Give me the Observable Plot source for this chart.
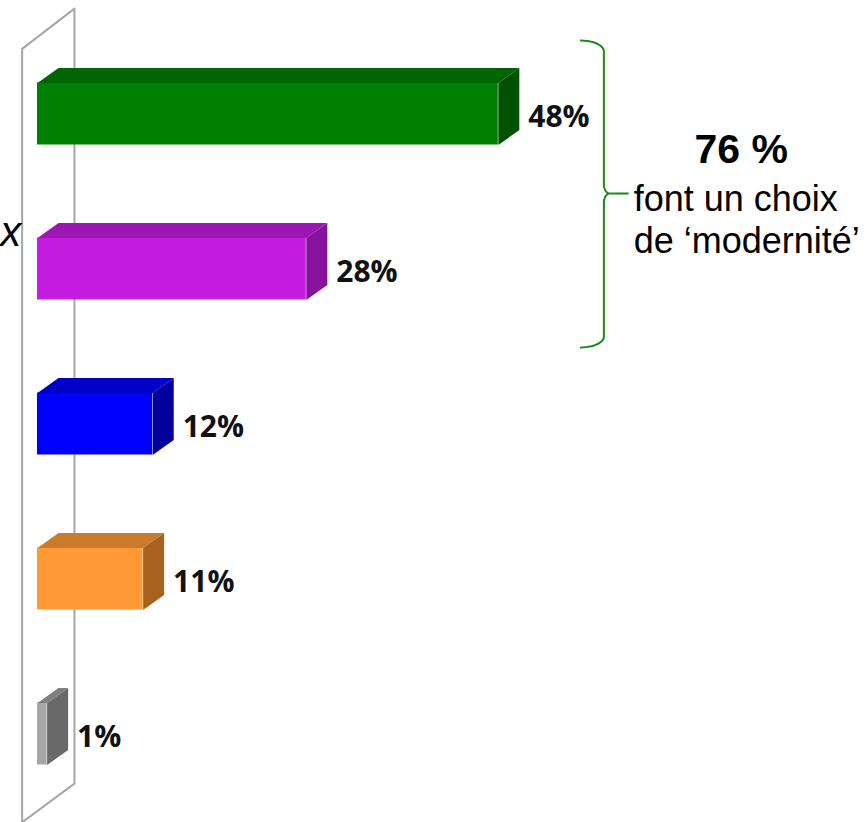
<!DOCTYPE html>
<html>
<head>
<meta charset="utf-8">
<script src="https://cdn.jsdelivr.net/npm/d3@7"></script>
<script src="https://cdn.jsdelivr.net/npm/@observablehq/plot@0.6"></script>
<style>
  html, body { margin: 0; padding: 0; background: #fff; }
  #chart { width: 867px; height: 822px; overflow: hidden; }
</style>
</head>
<body>
<div id="chart"></div>
<script>
// ---- data ----
const categories = ["A", "B", "C", "D", "E"];
const values = [48, 28, 12, 11, 1];
const valueLabels = ["48%", "28%", "12%", "11%", "1%"];
const categoryTailLabels = ["", "x", "", "", ""]; // cropped label visible at left
const frontColors = ["#008000", "#c61ce2", "#0000ff", "#ff9933", "#a6a6a6"];
const topColors   = ["#006400", "#9c16b2", "#0000c8", "#c97b2a", "#7f7f7f"];
const sideColors  = ["#005200", "#88129b", "#00009e", "#a8621f", "#696969"];
const groupTotal = "76 %";
const groupNote = ["font un choix", "de ‘modernité’"];

// ---- geometry helpers (data units) ----
const half = 0.2;      // half bar thickness in category units
const depthX = 2.19;   // 3D depth in % units
const depthY = 0.097;  // 3D depth in category units

const bars = categories.map((c, i) => ({
  i, c, v: values[i], label: valueLabels[i], tail: categoryTailLabels[i],
  front: frontColors[i], top: topColors[i], side: sideColors[i]
}));

const faces = [];
for (const b of bars) {
  const y0 = b.i - half, y1 = b.i + half;
  const t = [[0, y0], [b.v, y0], [b.v + depthX, y0 - depthY], [depthX, y0 - depthY]];
  const s = [[b.v, y0], [b.v + depthX, y0 - depthY], [b.v + depthX, y1 - depthY], [b.v, y1]];
  t.forEach(([x, y]) => faces.push({id: "t" + b.i, x, y, fill: b.top}));
  s.forEach(([x, y]) => faces.push({id: "s" + b.i, x, y, fill: b.side}));
}

// wall frame (back wall of the 3D chart)
const wallX = [-1.6, -1.6, 3.85, 3.85, -1.6];
const wallY = [4.57, -0.42, -0.68, 4.32, 4.57];
const wall = wallX.map((x, k) => ({x, y: wallY[k]}));

// curly brace spanning the first two categories
const braceTop = -0.474, braceBottom = 1.506, braceMid = 0.513;
const braceX0 = 56.6, braceX1 = 59.0, braceTip = 61.5;
const brace = [];
function arc(cx, cy, rx, ry, a0, a1) {
  const n = 12;
  for (let k = 0; k <= n; k++) {
    const a = a0 + (a1 - a0) * k / n;
    brace.push({x: cx + rx * Math.cos(a), y: cy + ry * Math.sin(a)});
  }
}
const rTop = 0.07, rMid = 0.06, dxMid = 0.6;
arc(braceX0, braceTop + rTop, braceX1 - braceX0, rTop, -Math.PI / 2, 0);
arc(braceX1 + dxMid, braceMid - rMid, dxMid, rMid, Math.PI, Math.PI / 2);
brace.push({x: braceTip, y: braceMid});
brace.push({x: braceX1 + dxMid, y: braceMid});
arc(braceX1 + dxMid, braceMid + rMid, dxMid, rMid, -Math.PI / 2, -Math.PI);
arc(braceX0, braceBottom - rTop, braceX1 - braceX0, rTop, 0, Math.PI / 2);

const annotTitle = [{x: 73.3, y: 0.317, text: groupTotal}];
const annotNote = [
  {x: 62.1, y: 0.624, text: groupNote[0]},
  {x: 62.1, y: 0.895, text: groupNote[1]}
];

const chart = Plot.plot({
  width: 867,
  height: 822,
  margin: 0,
  style: {background: "#fff", overflow: "hidden"},
  x: {type: "linear", domain: [-3.854, 86.46], range: [0, 867], axis: null},
  y: {type: "linear", domain: [-0.7323, 4.571], range: [0, 822], axis: null},
  marks: [
    Plot.line(wall, {x: "x", y: "y", stroke: "#a6a6a6", strokeWidth: 2, curve: "linear"}),
    Plot.rect(bars, {x1: 0, x2: "v", y1: d => d.i - half, y2: d => d.i + half, fill: "front"}),
    Plot.line(faces, {x: "x", y: "y", z: "id", fill: "fill", stroke: null, curve: "linear-closed"}),
    Plot.text(bars, {
      x: d => d.v + depthX, y: "i", text: "label", textAnchor: "start", dx: 9, dy: 3,
      fontFamily: "Open Sans", fontWeight: 700, fontSize: 30, fill: "#111"
    }),
    Plot.text(bars.filter(d => d.tail), {
      x: -1.6, y: d => d.i - 0.15, text: "tail", textAnchor: "end", lineAnchor: "bottom", dx: -1,
      fontFamily: "Liberation Sans", fontStyle: "italic", fontSize: 42, fill: "#000"
    }),
    Plot.line(brace, {x: "x", y: "y", stroke: "#1a8a1a", strokeWidth: 2, curve: "linear"}),
    Plot.text(annotTitle, {
      x: "x", y: "y", text: "text", textAnchor: "middle", lineAnchor: "bottom",
      fontFamily: "Liberation Sans", fontWeight: "bold", fontSize: 41, fill: "#000"
    }),
    Plot.text(annotNote, {
      x: "x", y: "y", text: "text", textAnchor: "start", lineAnchor: "bottom",
      fontFamily: "Liberation Sans", fontSize: 36, fill: "#000"
    })
  ]
});
document.getElementById("chart").appendChild(chart);
</script>
</body>
</html>
